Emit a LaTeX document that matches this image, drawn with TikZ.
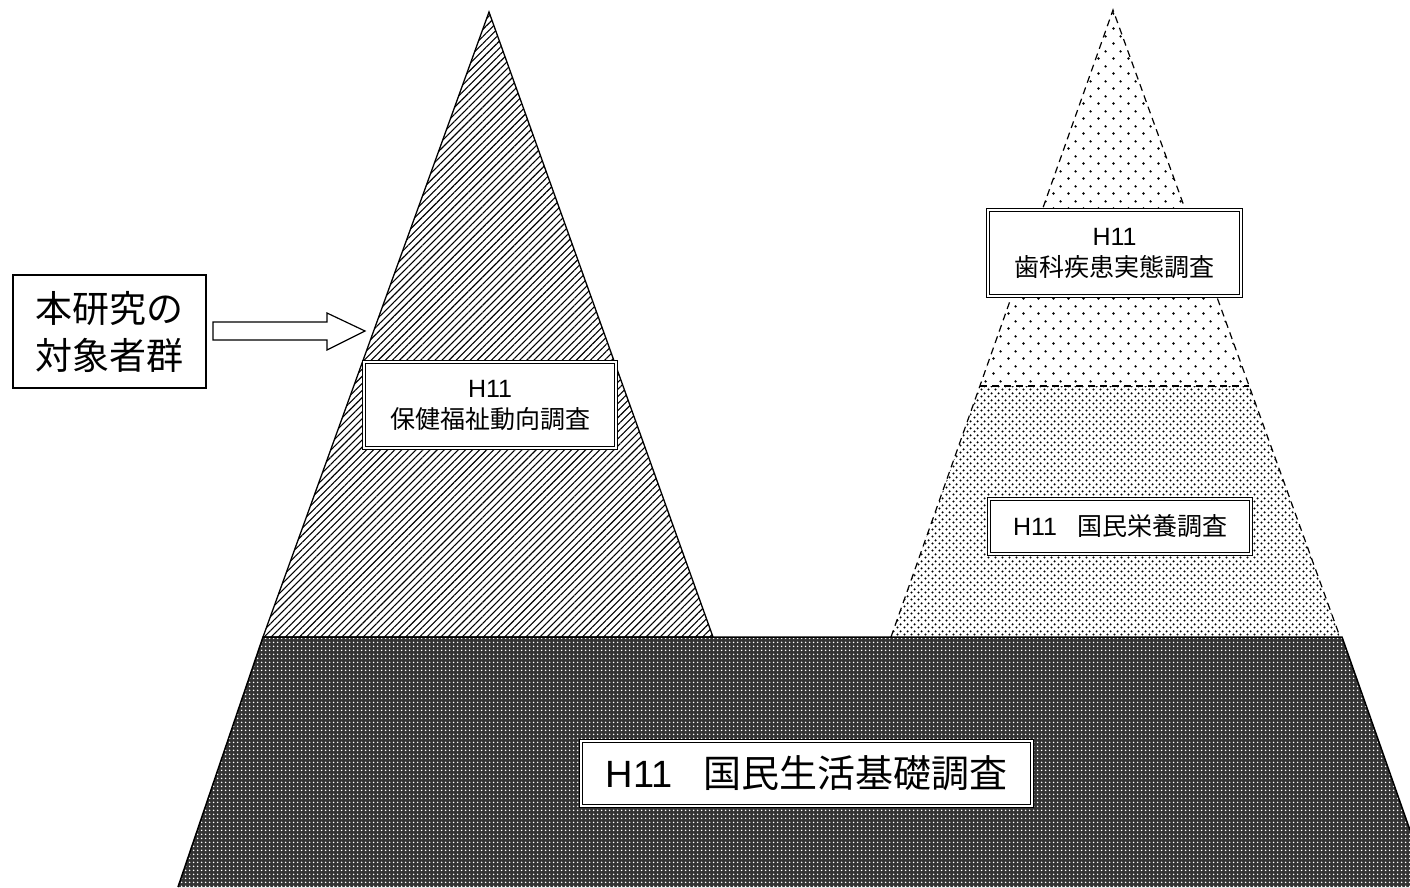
\documentclass[tikz,border=0pt]{standalone}
\usepackage{fontspec}
\setmainfont{Liberation Sans}
\newfontfamily\jp{Noto Sans CJK JP}
\usetikzlibrary{patterns.meta}
\tikzdeclarepattern{name=sparsedots,type=uncolored,bounding box={(0pt,0pt) and (15pt,15pt)},tile size={(15pt,15pt)},code={\fill (3.75pt,3.75pt) circle (1.4pt); \fill (11.25pt,11.25pt) circle (1.4pt);}}
\tikzdeclarepattern{name=densedots,type=uncolored,bounding box={(0pt,0pt) and (7pt,7pt)},tile size={(7pt,7pt)},code={\fill (1.75pt,1.75pt) circle (1.3pt); \fill (5.25pt,5.25pt) circle (1.3pt);}}
\tikzdeclarepattern{name=griddots,type=uncolored,bounding box={(0pt,0pt) and (4pt,4pt)},tile size={(4pt,4pt)},code={\fill (2pt,2pt) circle (1pt);}}
\begin{document}
\begin{tikzpicture}[x=1pt,y=-1pt,
  dbox/.style={draw=black, line width=1.2pt, double=white, double distance=2pt, fill=white, align=center, inner sep=0pt},
  smallfont/.style={font=\fontsize{25}{31}\selectfont},
  dashline/.style={line width=1.2pt, dash pattern=on 7pt off 5pt}]
\path[use as bounding box, clip] (0,0) rectangle (1410,887);
% left triangle
\filldraw[pattern={Lines[angle=45,distance=5pt,line width=1.1pt]}, line width=1.3pt, line join=miter] (489,12) -- (713,637) -- (263,637) -- cycle;
% right triangle bands
\fill[pattern=sparsedots] (1113,10) -- (1249,386) -- (980,386) -- cycle;
\fill[pattern=densedots] (980,386) -- (1249,386) -- (1340,637) -- (891,637) -- cycle;
\draw[dashline] (891,637) -- (1113,10) -- (1340,637);
\draw[dashline] (980,386) -- (1249,386);
% bottom trapezoid
\fill[black!80] (263,637) -- (1342,637) -- (1430,887) -- (178,887) -- cycle;
\fill[pattern=griddots, pattern color=white] (263,637) -- (1342,637) -- (1430,887) -- (178,887) -- cycle;
\draw[line width=1.5pt] (178,887) -- (263,637) -- (1342,637) -- (1430,887);
% boxes
\node[dbox, smallfont, minimum width=252pt, minimum height=86pt] (hoken) at (490,405) {H11\\{\jp 保健福祉動向調査}};
\node[dbox, smallfont, minimum width=253pt, minimum height=86pt] (shika) at (1114.5,253) {H11\\{\jp 歯科疾患実態調査}};
\node[dbox, smallfont, minimum width=262pt, minimum height=55pt] (eiyo) at (1120,526.5) {H11\hspace{0.8em}{\jp 国民栄養調査}};
\node[dbox, font=\fontsize{38}{44}\selectfont, minimum width=451pt, minimum height=65pt] (kiso) at (806.5,773.5) {H11\hspace{0.8em}{\jp 国民生活基礎調査}};
\node[draw=black, line width=1.2pt, fill=white, align=center, inner sep=0pt, minimum width=193pt, minimum height=113pt, font=\fontsize{37}{47}\selectfont] (kenkyu) at (109.5,331.5) {{\jp 本研究の}\\{\jp 対象者群}};
% block arrow
\draw[line width=1.2pt, line join=miter, fill=white] (213,322) -- (327,322) -- (327,313) -- (365,331) -- (327,350) -- (327,340) -- (213,340) -- cycle;
\end{tikzpicture}
\end{document}
